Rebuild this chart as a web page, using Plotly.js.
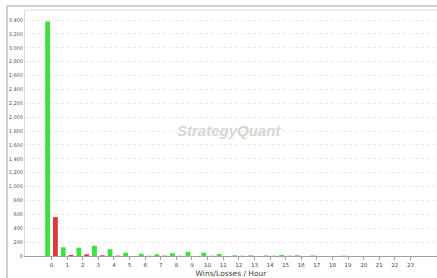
<!DOCTYPE html>
<html><head><meta charset="utf-8">
<script src="https://cdn.plot.ly/plotly-3.0.1.min.js"></script>
<style>html,body{margin:0;padding:0;background:#fff;}#chart{width:437px;height:278px;}</style>
</head><body><div id="chart"></div>
<script>
var hours = [0,1,2,3,4,5,6,7,8,9,10,11,12,13,14,15,16,17,18,19,20,21,22,23];
var wins = [3380,125,120,148,96,48,33,25,40,60,48,28,10,10,8,15,10,8,0,5,0,0,0,0];
var losses = [560,15,25,10,5,0,3,5,3,0,3,0,3,0,3,3,0,0,0,0,0,0,0,0];
var yTicks = [0,200,400,600,800,1000,1200,1400,1600,1800,2000,2200,2400,2600,2800,3000,3200,3400];

var traces = [
  {type:'bar', x:hours, y:wins, name:'Wins', marker:{color:'#3fe03f'}, hoverinfo:'none'},
  {type:'bar', x:hours, y:losses, name:'Losses', marker:{color:'#e2373d'}, hoverinfo:'none'}
];
var layout = {
  width:437, height:278,
  margin:{l:25, r:0, t:10, b:22, pad:0},
  paper_bgcolor:'#fff', plot_bgcolor:'#fff',
  showlegend:false,
  barmode:'group', bargap:0, bargroupgap:0.38,
  font:{family:'DejaVu Sans, Arial, sans-serif', color:'#444'},
  xaxis:{
    range:[-1.7,24.7], tickvals:hours, ticktext:hours.map(String),
    showgrid:false, zeroline:false, showline:true, linecolor:'#a0a0a0', linewidth:1,
    ticks:'outside', ticklen:3, tickcolor:'#a0a0a0', tickfont:{size:5.5, color:'#444'},
    title:{text:'Wins/Losses / Hour', font:{size:7.5, color:'#444'}, standoff:4}
  },
  yaxis:{
    range:[0,3544], tickvals:yTicks, tickformat:',d',
    showgrid:true, gridcolor:'#e8e8e8', griddash:'dot', gridwidth:1,
    zeroline:false, showline:true, linecolor:'#dcdcdc', linewidth:1,
    ticks:'', tickfont:{size:5, color:'#555'}
  },
  shapes:[
    {type:'line', xref:'paper', yref:'paper', x0:0, x1:1, y0:1, y1:1, line:{color:'#dcdcdc', width:1}},
    {type:'line', xref:'paper', yref:'paper', x0:-0.0437, x1:1.01, y0:1.0163, y1:1.0163, line:{color:'#d0d0d0', width:2}},
    {type:'line', xref:'paper', yref:'paper', x0:-0.0437, x1:-0.0437, y0:-0.1, y1:1.0163, line:{color:'#d0d0d0', width:2}}
  ],
  annotations:[
    {xref:'paper', yref:'paper', x:0.495, y:0.51, xanchor:'center', yanchor:'middle', showarrow:false,
     text:'<b><i>Strategy<span style="color:#dcd2c4">Q</span>uant</i></b>',
     font:{size:15, color:'#d6d6d6', family:'Liberation Sans, Arial, sans-serif'}}
  ]
};
Plotly.newPlot('chart', traces, layout, {staticPlot:true, displayModeBar:false});
</script></body></html>
